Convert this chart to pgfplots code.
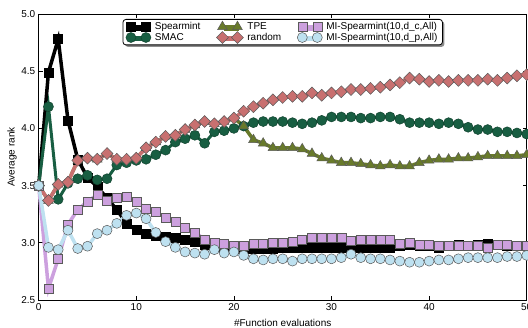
\documentclass[border=0pt]{standalone}
\usepackage{pgfplots}
\pgfplotsset{compat=1.18}
\usepackage{pgfplotstable}
\usepackage{fontspec}
\setmainfont{Liberation Sans}
\usetikzlibrary{shadows}

\definecolor{cSMAC}{RGB}{24,94,66}
\definecolor{cTPE}{RGB}{104,122,42}
\definecolor{cRand}{RGB}{200,112,112}
\definecolor{cDC}{RGB}{204,160,222}
\definecolor{cDP}{RGB}{190,225,240}
\definecolor{cEdge}{RGB}{90,90,90}

\pgfplotstableread{
x Spearmint SMAC TPE random MIdc MIdp
0 3.50 3.50 3.50 3.50 3.50 3.50
1 4.49 4.19 3.37 3.37 2.60 2.96
2 4.78 3.38 3.51 3.51 2.86 2.94
3 4.07 3.52 3.53 3.53 3.16 3.11
4 3.73 3.56 3.72 3.72 3.29 2.95
5 3.57 3.59 3.74 3.74 3.36 2.97
6 3.49 3.55 3.73 3.73 3.42 3.08
7 3.39 3.56 3.78 3.78 3.37 3.11
8 3.29 3.68 3.73 3.73 3.39 3.17
9 3.17 3.70 3.73 3.73 3.40 3.24
10 3.11 3.72 3.74 3.74 3.36 3.26
11 3.08 3.73 3.83 3.83 3.30 3.21
12 3.06 3.77 3.88 3.88 3.27 3.09
13 3.05 3.81 3.93 3.93 3.22 3.01
14 3.04 3.88 3.94 3.94 3.18 2.96
15 3.03 3.91 3.99 3.99 3.13 2.92
16 3.01 3.94 4.03 4.03 3.09 2.91
17 2.98 3.87 4.06 4.06 3.03 2.90
18 2.97 3.97 4.04 4.04 3.00 2.94
19 2.96 3.98 4.06 4.06 2.99 2.91
20 2.95 4.00 4.09 4.09 2.97 2.92
21 2.95 4.02 4.02 4.15 2.97 2.89
22 2.95 4.05 3.90 4.19 2.99 2.86
23 2.95 4.06 3.87 4.22 2.99 2.85
24 2.95 4.06 3.83 4.25 3.00 2.86
25 2.96 4.06 3.83 4.27 3.00 2.86
26 2.96 4.05 3.83 4.28 3.01 2.84
27 2.96 4.04 3.82 4.28 3.03 2.86
28 2.96 4.05 3.78 4.31 3.04 2.86
29 2.96 4.07 3.74 4.29 3.04 2.86
30 2.96 4.10 3.72 4.31 3.04 2.86
31 2.96 4.10 3.70 4.32 3.04 2.87
32 2.95 4.10 3.70 4.34 3.02 2.90
33 2.96 4.09 3.69 4.34 3.03 2.87
34 2.96 4.09 3.68 4.35 3.03 2.86
35 2.96 4.10 3.67 4.36 3.03 2.86
36 2.96 4.10 3.68 4.38 3.03 2.85
37 2.97 4.08 3.67 4.40 2.99 2.84
38 2.98 4.05 3.67 4.44 3.00 2.83
39 2.97 4.05 3.70 4.43 2.98 2.83
40 2.97 4.05 3.72 4.41 2.98 2.84
41 2.96 4.04 3.73 4.42 2.97 2.85
42 2.97 4.05 3.73 4.41 2.97 2.85
43 2.98 4.04 3.74 4.42 2.97 2.86
44 2.97 4.01 3.74 4.42 2.97 2.87
45 2.98 3.99 3.75 4.42 2.97 2.87
46 2.99 3.99 3.76 4.43 2.96 2.87
47 2.98 3.97 3.76 4.42 2.98 2.87
48 2.97 3.97 3.76 4.44 2.98 2.88
49 2.97 3.96 3.76 4.46 2.97 2.88
50 2.97 3.95 3.77 4.47 2.97 2.89
}\datatable

\pgfplotsset{
  sSp/.style={black, line width=3.5pt, mark=square*, mark size=4.5pt,
    mark options={solid, line width=0.5pt, fill=black, draw=black}},
  sSMAC/.style={cSMAC, line width=3pt, mark=*, mark size=5pt,
    mark options={solid, line width=0.5pt, fill=cSMAC, draw=cSMAC!70!black}},
  sTPE/.style={cTPE, line width=3.5pt, mark=triangle*, mark size=5.6pt,
    mark options={solid, line width=0.5pt, fill=cTPE, draw=cEdge}},
  sRand/.style={cRand, line width=3.5pt, mark=square*, mark size=4.2pt,
    mark options={solid, rotate=45, line width=0.5pt, fill=cRand, draw=cEdge}},
  sDC/.style={cDC, line width=3.5pt, mark=square*, mark size=4.5pt,
    mark options={solid, line width=0.5pt, fill=cDC, draw=cEdge}},
  sDP/.style={cDP, line width=3.5pt, mark=*, mark size=5pt,
    mark options={solid, line width=0.5pt, fill=cDP, draw=cEdge}},
}

\begin{document}
\begin{tikzpicture}[font=\fontsize{10}{12}\selectfont]
\begin{axis}[
  name=ax,
  scale only axis, width=488pt, height=286pt,
  xmin=0, xmax=50, ymin=2.5, ymax=5.0,
  xtick={0,10,20,30,40,50},
  ytick={2.5,3,3.5,4,4.5,5},
  yticklabel style={/pgf/number format/.cd, fixed, fixed zerofill, precision=1},
  /pgf/number format/assume math mode=true,
  tick align=inside, major tick length=4pt,
  tick style={black, line width=0.6pt},
  axis line style={black, line width=0.8pt},
  xlabel={\#Function evaluations},
  ylabel={Average rank},
  xlabel style={at={(axis description cs:0.5,0)}, anchor=base, yshift=-27pt},
  ylabel style={at={(axis description cs:-0.0547,0.5)}, anchor=center, rotate=0},
  clip=false,
  legend columns=3,
  legend cell align=left,
  legend image code/.code={\draw[mark repeat=2,mark phase=1,#1] plot coordinates {(0pt,0pt) (7.5pt,0pt) (15pt,0pt)};},
  legend style={at={(0.5,0.9825)}, anchor=north, draw=black, line width=0.8pt,
    rounded corners=3pt, fill=white,
    drop shadow={shadow xshift=2pt, shadow yshift=-2pt, fill=black!45, opacity=1},
    inner xsep=3pt, inner ysep=1pt, row sep=-2pt,
    /tikz/every odd column/.append style={column sep=2pt},
    /tikz/every even column/.append style={column sep=14pt},
    font=\fontsize{10}{12}\selectfont},
]
\addplot[sSp, forget plot] table[x=x, y=Spearmint] {\datatable};
\addplot[sSMAC, forget plot] table[x=x, y=SMAC] {\datatable};
\addplot[sTPE, forget plot] table[x=x, y=TPE] {\datatable};
\addplot[sRand, forget plot] table[x=x, y=random] {\datatable};
\addplot[sDC, forget plot] table[x=x, y=MIdc] {\datatable};
\addplot[sDP, forget plot] table[x=x, y=MIdp] {\datatable};

\addlegendimage{sSp}\addlegendentry{Spearmint}
\addlegendimage{sTPE}\addlegendentry{TPE}
\addlegendimage{sDC}\addlegendentry{MI-Spearmint(10,d\_c,All)}
\addlegendimage{sSMAC}\addlegendentry{SMAC}
\addlegendimage{sRand}\addlegendentry{random}
\addlegendimage{sDP}\addlegendentry{MI-Spearmint(10,d\_p,All)}
\end{axis}
\pgfresetboundingbox
\path[use as bounding box] (ax.south west) ++(-38.7pt,-28pt) rectangle ++(528pt,328pt);
\end{tikzpicture}
\end{document}
